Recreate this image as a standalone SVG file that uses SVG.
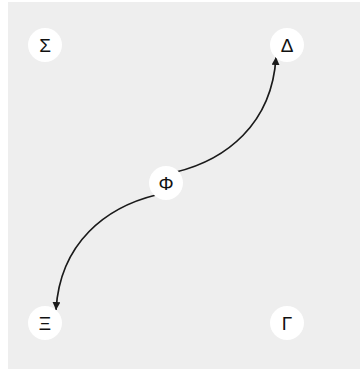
<svg xmlns="http://www.w3.org/2000/svg" width="360" height="369" viewBox="0 0 360 369">
<defs>
<style>
.node circle{fill:#ffffff;}
.node text{font-family:"Liberation Sans",Arial,sans-serif;font-size:19px;fill:#111;text-anchor:middle;dominant-baseline:central;}
.edge{fill:none;stroke:#1a1a1a;stroke-width:1.7;}
</style>
<marker id="arrow" viewBox="0 0 10 10" refX="10" refY="5" markerWidth="8" markerHeight="8" markerUnits="userSpaceOnUse" orient="auto">
<path d="M0,0 L10,5 L0,10 z" fill="#1a1a1a"/>
</marker>
</defs>
<rect x="8" y="2" width="352" height="367" fill="#eeeeee"/>
<g id="connectors">
<path class="edge" d="M176,172 C225,160 272,125 276,57" marker-end="url(#arrow)"/>
<path class="edge" d="M156,195 C107,207 60,242 56,310" marker-end="url(#arrow)"/>
</g>
<g id="node-sigma" class="node"><circle cx="45" cy="45" r="17"/><text x="45" y="45">Σ</text></g>
<g id="node-delta" class="node"><circle cx="287" cy="45" r="17"/><text x="287" y="45">Δ</text></g>
<g id="node-phi" class="node"><circle cx="166" cy="183" r="17"/><text x="166" y="183">Φ</text></g>
<g id="node-xi" class="node"><circle cx="45" cy="323" r="17"/><text x="45" y="323">Ξ</text></g>
<g id="node-gamma" class="node"><circle cx="287" cy="323" r="17"/><text x="287" y="323">Γ</text></g>
</svg>
